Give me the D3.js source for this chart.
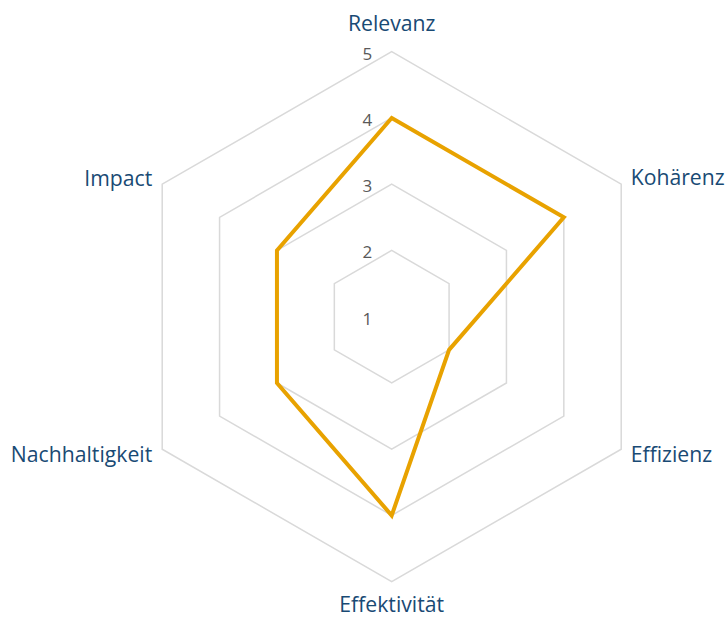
<!DOCTYPE html>
<html>
<head>
<meta charset="utf-8">
<script src="https://cdn.jsdelivr.net/npm/d3@7"></script>
<style>
  html, body { margin: 0; padding: 0; background: #fff; }
  svg { display: block; }
</style>
</head>
<body>
<svg id="chart" width="726" height="618"></svg>
<script>
// Evaluation criteria and their scores (scale 1–5)
const categories = ["Relevanz", "Kohärenz", "Effizienz", "Effektivität", "Nachhaltigkeit", "Impact"];
const scores = [4, 4, 2, 4, 3, 3];
const tickValues = [1, 2, 3, 4, 5];

const width = 726, height = 618;
const cx = 391.7, cy = 316.7, outerR = 265;

const svg = d3.select("#chart");
const g = svg.append("g").attr("transform", `translate(${cx},${cy})`);

const r = d3.scaleLinear().domain([1, 5]).range([0, outerR]);
const angle = d3.scaleLinear().domain([0, categories.length]).range([0, 2 * Math.PI]);

const pointAt = (i, v) => {
  const a = angle(i);
  return [Math.sin(a) * r(v), -Math.cos(a) * r(v)];
};

const closedLine = d3.line().curve(d3.curveLinearClosed);

// Hexagonal gridlines
g.selectAll("path.grid")
  .data(tickValues.filter(t => t > 1))
  .join("path")
  .attr("class", "grid")
  .attr("d", t => closedLine(categories.map((_, i) => pointAt(i, t))))
  .attr("fill", "none")
  .attr("stroke", "#d9d9d9")
  .attr("stroke-width", 1.5);

// Value axis labels along the top spoke
g.selectAll("text.tick")
  .data(tickValues)
  .join("text")
  .attr("class", "tick")
  .attr("x", -19.5)
  .attr("y", t => -r(t) + 7.8)
  .attr("text-anchor", "end")
  .attr("font-family", "'Open Sans', sans-serif")
  .attr("font-size", 17)
  .attr("fill", "#595959")
  .text(t => t);

// Score polygon
g.append("path")
  .attr("d", closedLine(scores.map((v, i) => pointAt(i, v))))
  .attr("fill", "none")
  .attr("stroke", "#e8a200")
  .attr("stroke-width", 4)
  .attr("stroke-linejoin", "miter");

// Category labels around the outer ring
const labelPlacement = [
  { dx: 0, dy: -286, anchor: "middle" },
  { dx: 239, dy: -131.5, anchor: "start" },
  { dx: 239, dy: 145, anchor: "start" },
  { dx: 0, dy: 295.5, anchor: "middle" },
  { dx: -239.5, dy: 145, anchor: "end" },
  { dx: -239.5, dy: -131, anchor: "end" }
];

g.selectAll("text.cat")
  .data(categories)
  .join("text")
  .attr("class", "cat")
  .attr("x", (_, i) => labelPlacement[i].dx)
  .attr("y", (_, i) => labelPlacement[i].dy)
  .attr("text-anchor", (_, i) => labelPlacement[i].anchor)
  .attr("font-family", "'Open Sans', sans-serif")
  .attr("font-size", 21.2)
  .attr("fill", "#194a74")
  .text(d => d);
</script>
</body>
</html>
